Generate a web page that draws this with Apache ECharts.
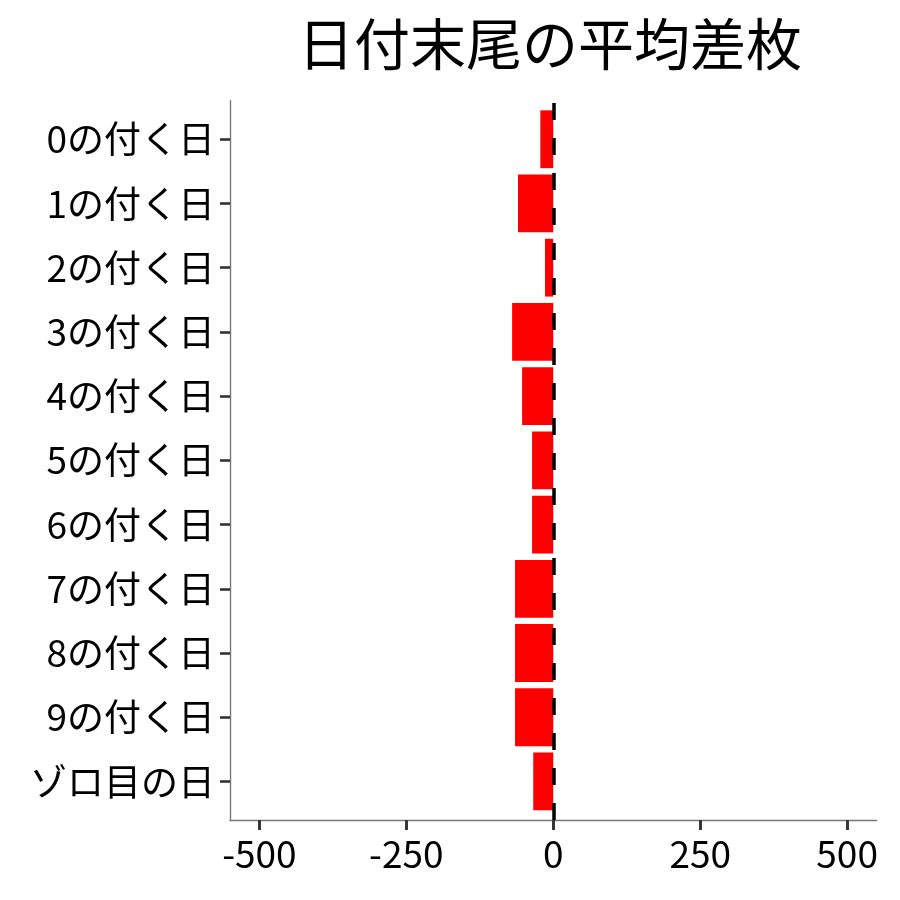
<!DOCTYPE html>
<html lang="ja">
<head>
  <meta charset="utf-8" />
  <title>日付末尾の平均差枚</title>
  <script src="https://cdn.jsdelivr.net/npm/echarts@6/dist/echarts.min.js"></script>
  <style>
    html, body { margin: 0; padding: 0; background: #fff; }
    #chart { width: 900px; height: 900px; }
  </style>
</head>
<body>
  <div id="chart"></div>
  <script>
    "use strict";

    // 日付末尾ごとのカテゴリ
    var categories = ['0の付く日', '1の付く日', '2の付く日', '3の付く日', '4の付く日',
      '5の付く日', '6の付く日', '7の付く日', '8の付く日', '9の付く日', 'ゾロ目の日'];
    // 平均差枚
    var diffValues = [-22, -60, -14, -70, -53, -36, -36, -65, -65, -65, -34];
    var xMin = -550, xMax = 550;   // パネル全体の範囲
    var tickMin = -500, tickMax = 500, tickStep = 250;

    var font = '"Noto Sans CJK JP", "Noto Sans", sans-serif';
    var axisColor = '#777';
    var tickColor = '#333';
    var clear = 'rgba(0,0,0,0)';
    var myChart = echarts.init(document.getElementById('chart'));

    // パネル（ggplot風）: 左 230, 右 876.5, 上 100.7, 下 820
    var unitY = (820 - 100.7) / 11.2; // カテゴリ1つ分の高さ
    var insetY = unitY * 0.1;
    var insetX = 50 * (876.5 - 230) / (xMax - xMin);

    var option = {
      animation: false,
      title: {
        text: '日付末尾の平均差枚',
        left: 545,
        top: 11,
        textAlign: 'center',
        textStyle: { fontFamily: font, fontSize: 56, fontWeight: 'normal', color: '#000' }
      },
      grid: [
        // 0: 枠線と基準線
        { left: 230, right: 23.5, top: 100.7, bottom: 80 },
        // 1: 棒グラフと目盛り（軸は offset でパネルの端へ）
        { left: 230 + insetX, right: 23.5 + insetX, top: 100.7 + insetY, bottom: 80 + insetY },
        // 2: x軸の目盛りだけ
        { left: 230 + insetX, right: 23.5 + insetX, top: 100.7, bottom: 80 }
      ],
      xAxis: [
        {
          gridIndex: 0, type: 'value', min: xMin, max: xMax,
          axisLine: { show: true, onZero: false, lineStyle: { color: axisColor, width: 1.4 } },
          axisTick: { show: false }, axisLabel: { show: false }, splitLine: { show: false }
        },
        {
          gridIndex: 1, type: 'value', min: tickMin, max: tickMax, interval: tickStep,
          offset: insetY,
          axisLine: { show: true, onZero: false, lineStyle: { color: clear, width: 1 } },
          axisTick: { show: true, length: 10, lineStyle: { color: tickColor, width: 2.6 } },
          axisLabel: { margin: 15, fontFamily: font, fontSize: 37, color: '#000' },
          splitLine: { show: true, lineStyle: { color: clear } }
        },
        {
          gridIndex: 2, type: 'value', min: tickMin, max: tickMax, interval: tickStep,
          axisLine: { show: true, lineStyle: { color: clear } },
          axisTick: { show: true, length: 10, lineStyle: { color: tickColor, width: 2.6 } },
          axisLabel: { show: false },
          splitLine: { show: true, lineStyle: { color: clear } }
        }
      ],
      yAxis: [
        {
          gridIndex: 0, type: 'value', min: 0, max: 1,
          axisLine: { show: true, onZero: false, lineStyle: { color: axisColor, width: 1.4 } },
          axisTick: { show: false }, axisLabel: { show: false }, splitLine: { show: false }
        },
        {
          gridIndex: 1, type: 'category', inverse: true, data: categories,
          offset: insetX,
          axisLine: { show: true, onZero: false, lineStyle: { color: clear } },
          axisTick: { show: true, alignWithLabel: true, length: 10, lineStyle: { color: tickColor, width: 2.6 } },
          axisLabel: { margin: 15, fontFamily: font, fontSize: 37, color: '#000' }
        },
        {
          gridIndex: 2, type: 'category', data: categories, show: false
        }
      ],
      series: [
        {
          type: 'bar',
          xAxisIndex: 1,
          yAxisIndex: 1,
          data: diffValues,
          barCategoryGap: '10%',
          itemStyle: { color: '#ff0000' }
        },
        {
          // 0 の位置に破線
          type: 'scatter',
          xAxisIndex: 0,
          yAxisIndex: 0,
          data: [],
          z: 5,
          markLine: {
            silent: true,
            symbol: 'none',
            label: { show: false },
            lineStyle: { color: '#000', width: 3.5, type: [17, 18] },
            data: [{ xAxis: 0 }]
          }
        }
      ]
    };

    myChart.setOption(option);
  </script>
</body>
</html>
